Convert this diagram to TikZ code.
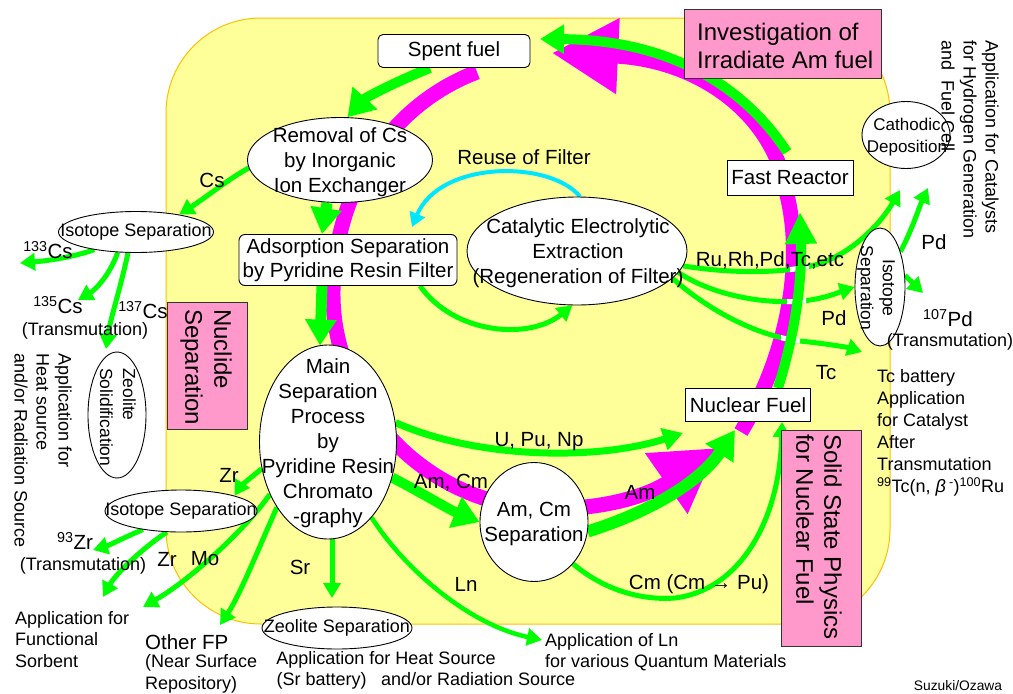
\documentclass[tikz,border=0pt]{standalone}
\usepackage{fontspec}
\setmainfont{Liberation Sans}
\usetikzlibrary{shapes.geometric,arrows.meta,calc}
\pgfdeclarelayer{back}
\pgfdeclarelayer{mid}
\pgfsetlayers{back,mid,main}
\definecolor{bgY}{RGB}{255,255,153}
\definecolor{bgO}{RGB}{255,192,0}
\definecolor{gr}{RGB}{0,255,0}
\definecolor{mg}{RGB}{255,0,255}
\definecolor{pk}{RGB}{255,153,204}
\definecolor{cy}{RGB}{0,230,255}
\newcommand\myfs[2]{\fontsize{#1}{#2}\selectfont}
\begin{document}
\begin{tikzpicture}[x=1pt,y=-1pt,
 txt/.style={inner sep=0pt, align=center, font=\myfs{20.5}{25}},
 stxt/.style={inner sep=0pt, align=center, font=\myfs{18}{22}},
 ell/.style={ellipse, draw=black, line width=0.9pt, fill=white, inner sep=0pt},
 rbox/.style={draw=black, line width=0.9pt, fill=white, inner sep=0pt, font=\myfs{20.5}{24}, align=center},
 pbox/.style={draw=black!80, line width=0.9pt, fill=pk, inner sep=0pt},
 gthin/.style={draw=gr, line width=5pt, -{Triangle[length=15pt,width=17pt]}},
 gthick/.style={draw=gr, line width=10pt, -{Triangle[length=26pt,width=32pt]}},
 mgarr/.style={draw=mg, line width=15pt},
]
\useasboundingbox (0,0) rectangle (1013,694);
\begin{pgfonlayer}{back}
\fill[white] (0,0) rectangle (1013,694);
\path[fill=bgY, draw=bgO, line width=1pt, rounded corners=95pt] (166,18) rectangle (890,624);
\end{pgfonlayer}

% ---------- nodes ----------
\node[rbox, rounded corners=5pt, minimum width=152, minimum height=33] (spent) at (454,51) {Spent fuel};
\node[pbox, minimum width=197, minimum height=69] (inv) at (783,44) {};
\node[inner sep=0pt, font=\myfs{24}{28}, align=left, anchor=west] (invT) at (697,46) {Investigation of\\Irradiate Am fuel};

\node[ell, minimum width=185, minimum height=85] (removal) at (340,160) {};
\node[txt] (removalT) at (340,162) {Removal of Cs\\by Inorganic\\Ion Exchanger};
\node[rbox, rounded corners=6pt, minimum width=218, minimum height=51] (adsorb) at (348,260) {Adsorption Separation\\by Pyridine Resin Filter};
\node[txt] (reuse) at (524,157) {Reuse of Filter};
\node[ell, minimum width=220, minimum height=108] (catal) at (577,251) {};
\node[txt] (catalT) at (578,253) {Catalytic Electrolytic\\Extraction\\(Regeneration of Filter)};

\node[rbox, minimum width=126, minimum height=35] (fast) at (790,178) {Fast Reactor};
\node[ell, minimum width=88, minimum height=67] (cath) at (906,135) {};
\node[inner sep=0pt, align=center, font=\myfs{17}{22}] (cathT) at (907,137) {Cathodic\\Deposition};
\node[stxt, rotate=-90, align=left, anchor=west] (catV) at (970,40) {Application for Catalysts\\for Hydrogen Generation\\and\ \ Fuel Cell};

\node[ell, minimum width=50, minimum height=118] (isoR) at (880,287) {};
\node[inner sep=0pt, align=center, font=\myfs{17.5}{22}, rotate=-90] (isoRT) at (876,288) {Isotope\\Separation};
\node[txt] (pdA) at (934,242) {Pd};
\node[txt] (pd107) at (948,318) {\textsuperscript{107}Pd};
\node[stxt] (trC) at (950,342) {(Transmutation)};
\node[txt] (ruh) at (770,260) {Ru,Rh,Pd,Tc,etc};
\node[txt] (pdB) at (834,318) {Pd};
\node[txt] (tcL) at (826,373) {Tc};
\node[stxt, align=left, anchor=west] (tcb) at (877,433) {Tc battery\\Application\\for Catalyst\\After\\Transmutation\\\textsuperscript{99}Tc(n, \textit{β}\,\textsuperscript{-})\textsuperscript{100}Ru};

\node[rbox, minimum width=125, minimum height=33] (nf) at (748,405) {Nuclear Fuel};
\node[pbox, minimum width=80, minimum height=216] (ssp) at (821,538) {};
\node[inner sep=0pt, font=\myfs{24}{28}, rotate=-90, align=left, anchor=west] (sspT) at (819,434) {Solid State Physics\\for Nuclear Fuel};

\node[ell, minimum width=108, minimum height=119] (amcm) at (534,522) {};
\node[txt] (amcmT) at (534,524) {Am, Cm\\Separation};
\node[txt] (upn) at (539,442) {U, Pu, Np};
\node[txt] (amcmL) at (451,483) {Am, Cm};
\node[txt] (amL) at (640,492) {Am};
\node[txt] (cmL) at (699,584) {Cm (Cm → Pu)};

\node[ell, minimum width=137, minimum height=194] (mainsep) at (328,442) {};
\node[txt] (mainT) at (328,443) {Main\\Separation\\Process\\by\\Pyridine Resin\\Chromato\\-graphy};

\node[txt] (csL) at (212,180) {Cs};
\node[ell, minimum width=155, minimum height=41] (iso1) at (136,232) {};
\node[stxt] (iso1T) at (136,232) {Isotope Separation};
\node[txt] (c133) at (48,250) {\textsuperscript{133}Cs};
\node[txt] (c135) at (58,305) {\textsuperscript{135}Cs};
\node[txt] (c137) at (143,310) {\textsuperscript{137}Cs};
\node[stxt] (trA) at (85,331) {(Transmutation)};
\node[ell, minimum width=58, minimum height=126] (zeosol) at (117,415) {};
\node[inner sep=0pt, font=\myfs{17.5}{23}, rotate=-90, align=left, anchor=west] (zeosolT) at (118,368) {Zeolite\\Solidification};
\node[stxt, rotate=-90, align=left, anchor=west] (heatV) at (43,353) {Application for\\Heat source\\and/or Radiation Source};
\node[pbox, minimum width=80, minimum height=127] (nuc) at (207,366) {};
\node[inner sep=0pt, font=\myfs{24}{29}, rotate=-90, align=left, anchor=west] (nucT) at (206,309) {Nuclide\\Separation};

\node[txt] (zrA) at (229,475) {Zr};
\node[ell, minimum width=152, minimum height=42] (iso2) at (181,511) {};
\node[stxt] (iso2T) at (181,511) {Isotope Separation};
\node[txt] (zr93) at (75,541) {\textsuperscript{93}Zr};
\node[stxt] (trB) at (83,566) {(Transmutation)};
\node[txt] (zrB) at (167,559) {Zr};
\node[txt] (mo) at (205,559) {Mo};
\node[inner sep=0pt, font=\myfs{18}{21.5}, align=left, anchor=west] (sorb) at (15,639.5) {Application for\\Functional\\Sorbent};
\node[inner sep=0pt, font=\myfs{20.5}{24}, anchor=west] (ofp) at (145,642) {Other FP};
\node[stxt, align=left, anchor=west] (nsr) at (145,674) {(Near Surface\\Repository)};
\node[txt] (sr) at (300,567) {Sr};
\node[ell, minimum width=150, minimum height=42] (zsep) at (337,628) {};
\node[stxt] (zsepT) at (337,628) {Zeolite Separation};
\node[stxt] (heat1) at (386,660) {Application for Heat Source};
\node[stxt] (heat2) at (426,681) {(Sr battery)\hspace{0.8em}and/or Radiation Source};
\node[txt] (ln) at (466,584) {Ln};
\node[inner sep=0pt, font=\myfs{18}{21}, align=left, anchor=west] (lnapp) at (545,652) {Application of Ln\\for various Quantum Materials};
\node[inner sep=0pt, font=\myfs{13.8}{16}] (sig) at (958,686) {Suzuki/Ozawa};

% ---------- free ends ----------
\coordinate (m1s) at (477,72);
\coordinate (m1e) at (717,448);
\coordinate (m2s) at (741,432);
\coordinate (m2e) at (552,53);
\coordinate (nfA) at (735,430);
\coordinate (frB) at (800,212);
\coordinate (frA) at (787,152);
\coordinate (spentE) at (540,39);
\coordinate (e133) at (20,263);
\coordinate (e135) at (78,300);
\coordinate (e137) at (106,349);
\coordinate (e93) at (93,550);
\coordinate (eSorb) at (103,597);
\coordinate (eMo) at (143,607);
\coordinate (eFP) at (220,625);
\coordinate (eSr) at (332,598);
\coordinate (eLn) at (542,640);
\coordinate (eU) at (683,433);
\coordinate (eRe) at (412,227);
\coordinate (eCath) at (900,190);
\coordinate (eTc) at (862,352);
\coordinate (ePd) at (928,188);
\coordinate (e107) at (923,293);

% ---------- connectors ----------
\begin{pgfonlayer}{mid}
\draw[mgarr, -{Triangle[length=62pt,width=70pt]}] (m1s) .. controls (390,105) and (335,190) .. (333,290) .. controls (331,400) and (420,500) .. (534,508) .. controls (600,512) and (650,495) .. (m1e);
\draw[mgarr, -{Triangle[length=66pt,width=72pt]}] (m2s) .. controls (790,350) and (803,260) .. (787,195) .. controls (775,115) and (700,60) .. (m2e);

\draw[gthick] ($(spent.south)+(-24,0)$) .. controls (395,82) and (365,98) .. (removal.80);
\draw[gthick, line width=11pt, -{Triangle[length=26pt,width=30pt]}] ($(removal.south)+(-13,0)$) -- ($(adsorb.north)+(-26,0)$);
\draw[gthick, line width=11pt, -{Triangle[length=26pt,width=30pt]}] ($(adsorb.south)+(-26,0)$) -- ($(mainsep.north)+(-8,1)$);
\draw[gthick] (mainsep.-29) .. controls (420,492) and (450,510) .. (amcm.west);
\draw[gthick, line width=12pt, -{Triangle[length=28pt,width=32pt]}] (amcm.-10) .. controls (650,512) and (700,482) .. (nfA);
\draw[gthick, -{Triangle[length=24pt,width=28pt]}] (frA) .. controls (750,95) and (680,40) .. (spentE);

\draw[gthin] (removal.185) .. controls (230,178) and (205,198) .. (iso1.22);
\draw[gthin] (iso1.-157) .. controls (70,258) and (45,261) .. (e133);
\draw[gthin] (iso1.-132) .. controls (110,275) and (95,290) .. (e135);
\draw[gthin] (iso1.-111) .. controls (120,290) and (110,320) .. (e137);
\draw[gthin] (mainsep.-158) .. controls (250,478) and (240,487) .. (iso2.16);
\draw[gthin] (iso2.-154) .. controls (125,537) and (110,545) .. (e93);
\draw[gthin] (iso2.-124) .. controls (140,550) and (115,575) .. (eSorb);
\draw[gthin] (mainsep.-138) .. controls (245,530) and (190,580) .. (eMo);
\draw[gthin] (mainsep.-128) .. controls (260,545) and (240,595) .. (eFP);
\draw[gthin] ($(mainsep.south)+(4,0)$) -- (eSr);
\draw[gthin, line width=4.5pt] (mainsep.-60) .. controls (405,570) and (470,625) .. (eLn);
\draw[gthin, line width=7pt, -{Triangle[length=20pt,width=22pt]}] (mainsep.16) .. controls (480,460) and (600,460) .. (eU);
\draw[gthin] (amcm.-47) .. controls (610,595) and (650,600) .. (675,598) .. controls (740,590) and (780,520) .. ($(nf.south)+(34,0)$);
\draw[gthin] ($(adsorb.south)+(72,0)$) .. controls (455,335) and (530,340) .. (catal.265);
\draw[draw=cy, line width=4pt, -{Triangle[length=14pt,width=16pt]}] ($(catal.north)+(3,0)$) .. controls (550,160) and (440,160) .. (eRe);
\draw[gthin] (catal.-8) .. controls (740,275) and (790,272) .. (815,265) .. controls (850,255) and (880,225) .. (eCath);
\draw[gthin] (catal.-12) .. controls (720,300) and (780,305) .. (810,300) .. controls (830,297) and (845,290) .. (isoR.west);
\draw[gthin] (catal.-16) .. controls (720,320) and (770,338) .. (800,341) .. controls (830,344) and (850,348) .. (eTc);
\draw[gthin] (isoR.60) .. controls (912,230) and (920,205) .. (ePd);
\draw[gthin] (isoR.25) -- (e107);

% white bridges where the thin lines pass under the vertical green arrow
\begin{scope}
\clip (790,255) rectangle (809,285) (787,290) rectangle (806,315) (781,328) rectangle (801,352);
\draw[white, line width=5pt] (catal.-8) .. controls (740,275) and (790,272) .. (815,265);
\draw[white, line width=5pt] (catal.-12) .. controls (720,300) and (780,305) .. (810,300);
\draw[white, line width=5pt] (catal.-16) .. controls (720,320) and (770,338) .. (800,341);
\end{scope}

\draw[gthick, -{Triangle[length=32pt,width=30pt]}] ($(nf.north)+(30,0)$) .. controls (796,330) and (802,280) .. (frB);
\end{pgfonlayer}
\end{tikzpicture}
\end{document}
